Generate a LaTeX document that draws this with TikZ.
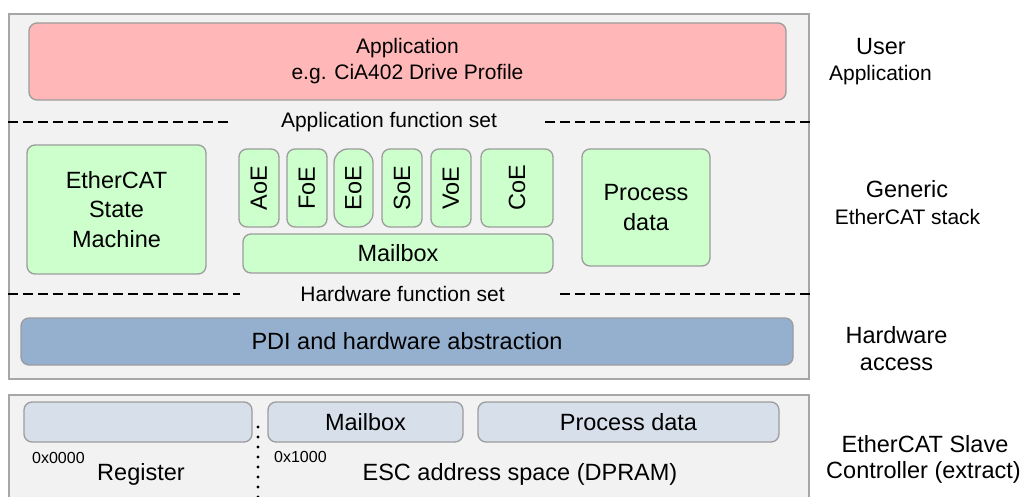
\documentclass[tikz,border=0pt]{standalone}
\usepackage{fontspec}
\setmainfont{Liberation Sans}
\usepackage{xcolor}
\definecolor{layer-gray}{HTML}{F2F2F2}
\definecolor{layer-line}{HTML}{A6A6A6}
\definecolor{box-line}{HTML}{9C9C9C}
\definecolor{app-red}{HTML}{FFB7B7}
\definecolor{stack-green}{HTML}{CCFFCC}
\definecolor{pdi-blue}{HTML}{95B0CF}
\definecolor{esc-blue}{HTML}{D7DFEA}
\newcommand{\boxfont}{\fontsize{23.5}{29.5}\selectfont}
\newcommand{\setfont}{\fontsize{21}{26}\selectfont}
\newcommand{\addrfont}{\fontsize{16}{19}\selectfont}
\tikzset{
    box-size/.style 2 args = {minimum width=#1pt, minimum height=#2pt},
    layer-box/.style = {draw=layer-line, fill=layer-gray, line width=1.4pt, rectangle, inner sep=0pt},
    rounded-box/.style = {draw=box-line, line width=1.3pt, rectangle, rounded corners=8pt, inner sep=0pt, align=center, font=\boxfont},
    app-box/.style = {rounded-box, fill=app-red, font=\setfont},
    stack-box/.style = {rounded-box, fill=stack-green},
    pdi-box/.style = {rounded-box, fill=pdi-blue},
    esc-box/.style = {rounded-box, fill=esc-blue},
    set-label/.style = {inner sep=0pt, font=\setfont},
    side-label/.style = {inner sep=0pt, anchor=base, font=\boxfont},
    side-small/.style = {side-label, font=\setfont},
    addr-label/.style = {inner sep=0pt, anchor=base west, font=\addrfont},
    sep-line/.style = {draw=black, line width=1.1pt, dash pattern=on 10pt off 5pt},
    split-line/.style = {draw=black, line width=3.2pt, line cap=round, dash pattern=on 0pt off 10pt},
}

\begin{document}
\begin{tikzpicture}[x=1pt, y=-1pt]
\useasboundingbox (0,0) rectangle (1026,497);

% layers
\node[layer-box, box-size={800}{365}] (stack) at (409,196.5) {};
\node[layer-box, box-size={800}{112}] (esc) at (409,451) {};

% user application
\node[app-box, box-size={757}{77}] (app) at (407.5,61.5) {Application\\e.g. CiA402 Drive Profile};
\node[set-label] (appfs) at (389,122) {Application function set};
\draw[sep-line] (stack.west |- appfs.center) -- ([xshift=-51pt]appfs.center -| appfs.west);
\draw[sep-line] ([xshift=48pt]appfs.center -| appfs.east) -- (stack.east |- appfs.center);

% generic stack
\node[stack-box, box-size={179}{129}] (esm) at (116.5,209.5) {EtherCAT\\State\\Machine};
\node[stack-box, box-size={40}{78}] (aoe) at (259,188) {\rotatebox{90}{AoE}};
\node[stack-box, box-size={40}{78}] (foe) at (307,188) {\rotatebox{90}{FoE}};
\node[stack-box, box-size={39}{78}, rounded corners=14pt] (eoe) at (353.5,188) {\rotatebox{90}{EoE}};
\node[stack-box, box-size={40}{78}] (soe) at (402,188) {\rotatebox{90}{SoE}};
\node[stack-box, box-size={40}{78}] (voe) at (451,188) {\rotatebox{90}{VoE}};
\node[stack-box, box-size={72}{78}] (coe) at (517,188) {\rotatebox{90}{CoE}};
\node[stack-box, box-size={310}{39}] (mbx) at (398,253.5) {Mailbox};
\node[stack-box, box-size={128}{117}] (pd) at (646,207.5) {Process\\data};

% hardware access
\node[set-label] (hwfs) at (402.5,294) {Hardware function set};
\draw[sep-line] (stack.west |- hwfs.center) -- ([xshift=-60pt]hwfs.center -| hwfs.west);
\draw[sep-line] ([xshift=55pt]hwfs.center -| hwfs.east) -- (stack.east |- hwfs.center);
\node[pdi-box, box-size={772}{47}] (pdi) at (407,341.5) {PDI and hardware abstraction};

% slave controller
\node[esc-box, box-size={228}{40}] (reg) at (138,422) {};
\node[esc-box, box-size={195}{40}] (esc-mbx) at (365.5,422) {Mailbox};
\node[esc-box, box-size={301}{40}] (esc-pd) at (628.5,422) {Process data};
\coordinate (split-top) at (258,427);
\coordinate (split-bot) at (258,500);
\draw[split-line] (split-top) -- (split-bot);
\node[addr-label] (addr-reg) at (32,463) {0x0000};
\node[side-label] (reg-label) at (141,480) {Register};
\node[addr-label] (addr-ram) at (274,462) {0x1000};
\node[side-label] (ram-label) at (520,480) {ESC address space (DPRAM)};

% side labels
\node[side-label] (user-a) at (881,55) {User};
\node[side-small] (user-b) at (880.5,81) {Application};
\node[side-label] (gen-a) at (907,198) {Generic};
\node[side-small] (gen-b) at (907.5,225) {EtherCAT stack};
\node[side-label] (hw-a) at (896.5,343) {Hardware};
\node[side-label] (hw-b) at (896.5,370) {access};
\node[side-label] (slave-a) at (925,452) {EtherCAT Slave};
\node[side-label] (slave-b) at (923.5,478) {Controller (extract)};
\end{tikzpicture}
\end{document}
